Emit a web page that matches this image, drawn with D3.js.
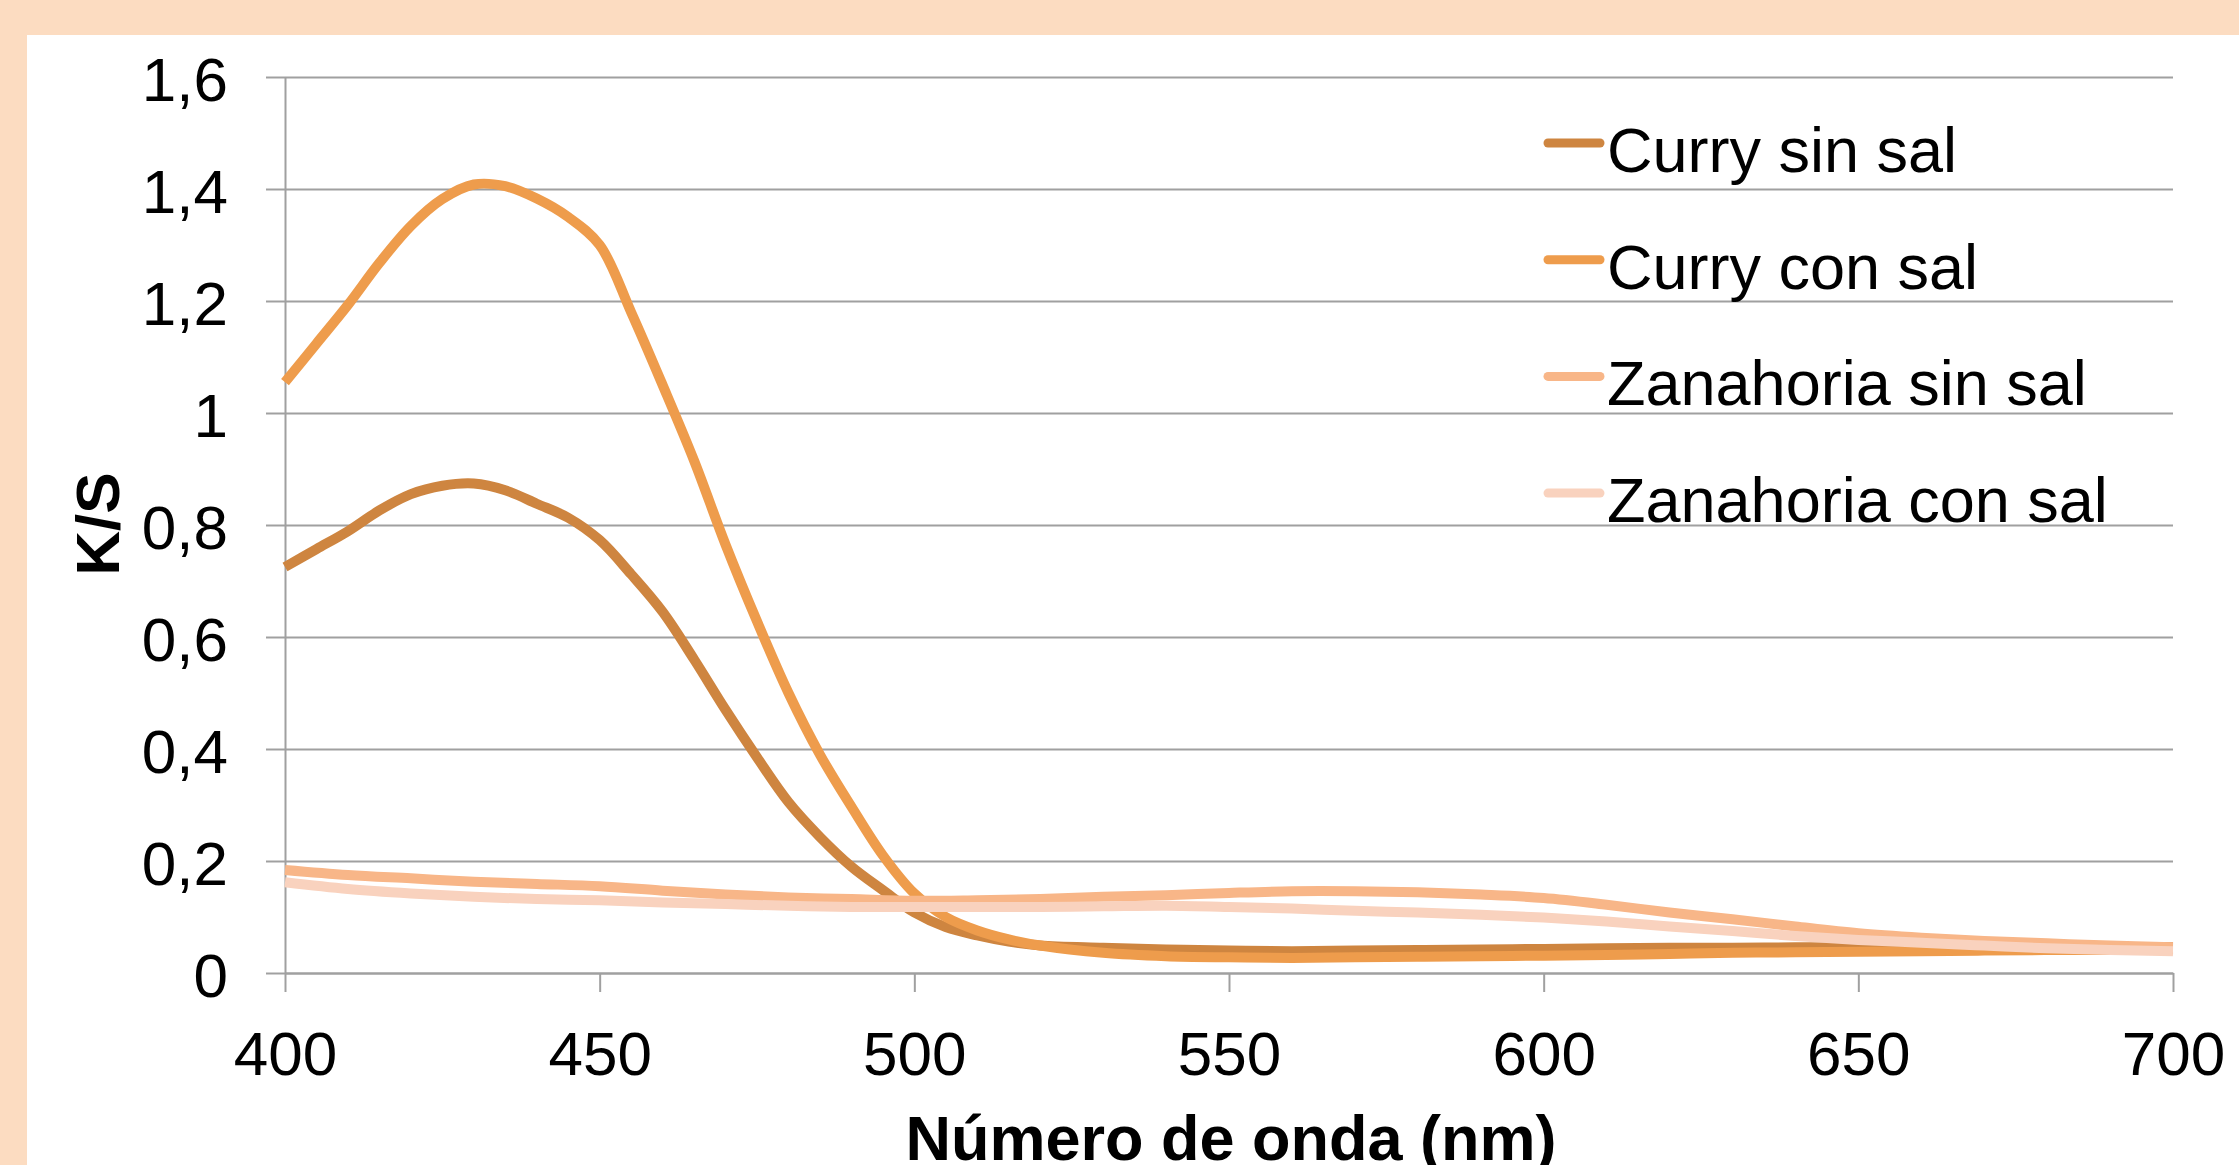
<!DOCTYPE html>
<html>
<head>
<meta charset="utf-8">
<script src="https://cdn.jsdelivr.net/npm/d3@7"></script>
<style>
  body { margin: 0; background: #fff; }
  svg { display: block; }
  text { font-family: "Liberation Sans", Arial, sans-serif; fill: #000; }
  .axis path, .axis line { stroke: #a0a0a0; stroke-width: 2; }
</style>
</head>
<body>
<svg class="root"></svg>
<script>
// wavelengths (nm) for curry spectra, finer around the peak
var curryNm = [400, 405, 410, 415, 420, 425, 430, 435, 440, 445, 450, 455, 460, 465, 470,
  475, 480, 485, 490, 495, 500, 505, 510, 515, 520, 530, 540, 550, 560, 570, 580, 590,
  600, 610, 620, 630, 640, 650, 660, 670, 680, 690, 700];
var currySinSal = [0.725, 0.757, 0.789, 0.826, 0.855, 0.870, 0.874, 0.862, 0.838, 0.813, 0.773,
  0.712, 0.645, 0.560, 0.470, 0.385, 0.305, 0.243, 0.190, 0.148, 0.108, 0.082, 0.067, 0.056,
  0.049, 0.045, 0.042, 0.040, 0.039, 0.040, 0.041, 0.042, 0.043, 0.044, 0.045, 0.045, 0.046,
  0.046, 0.046, 0.046, 0.046, 0.046, 0.046];
var curryConSal = [1.055, 1.124, 1.193, 1.268, 1.334, 1.382, 1.408, 1.405, 1.383, 1.350, 1.300,
  1.180, 1.050, 0.915, 0.765, 0.628, 0.500, 0.390, 0.297, 0.210, 0.142, 0.100, 0.076, 0.060,
  0.049, 0.036, 0.030, 0.028, 0.027, 0.028, 0.029, 0.030, 0.031, 0.032, 0.034, 0.036, 0.037,
  0.038, 0.039, 0.040, 0.041, 0.041, 0.042];

// wavelengths (nm) for carrot spectra
var zanahoriaNm = [400, 410, 420, 430, 440, 450, 460, 470, 480, 490, 500, 510, 520, 530, 540,
  550, 560, 570, 580, 590, 600, 610, 620, 630, 640, 650, 660, 670, 680, 690, 700];
var zanahoriaSinSal = [0.184, 0.175, 0.169, 0.163, 0.159, 0.155, 0.147, 0.140, 0.135, 0.132,
  0.129, 0.130, 0.132, 0.136, 0.139, 0.143, 0.146, 0.146, 0.144, 0.140, 0.134, 0.122, 0.108,
  0.096, 0.083, 0.071, 0.063, 0.057, 0.053, 0.049, 0.046];
var zanahoriaConSal = [0.162, 0.150, 0.142, 0.136, 0.132, 0.130, 0.126, 0.123, 0.120, 0.118,
  0.118, 0.118, 0.118, 0.119, 0.120, 0.118, 0.115, 0.111, 0.108, 0.104, 0.099, 0.092, 0.083,
  0.075, 0.066, 0.059, 0.054, 0.049, 0.044, 0.041, 0.039];

var seriesNames = ["Curry sin sal", "Curry con sal", "Zanahoria sin sal", "Zanahoria con sal"];
var seriesColors = ["#ce8540", "#ee9c4c", "#f8b688", "#f9d2be"];

var xTicks = [400, 450, 500, 550, 600, 650, 700];
var yTicks = [0, 0.2, 0.4, 0.6, 0.8, 1, 1.2, 1.4, 1.6];
var yTickLabels = ["0", "0,2", "0,4", "0,6", "0,8", "1", "1,2", "1,4", "1,6"];

var W = 2239, H = 1165;
var margin = {top: 77, right: 66, bottom: 192, left: 285},
  width = W - margin.left - margin.right,
  height = H - margin.top - margin.bottom;

var svg = d3.select(".root").attr("width", W).attr("height", H);

// peach frame
svg.append("rect").attr("width", W).attr("height", H).attr("fill", "#fcdcc1");
svg.append("rect").attr("x", 27).attr("y", 35).attr("width", W - 27).attr("height", H - 35)
  .attr("fill", "#fff");

var chart = svg.append("g")
  .attr("transform", "translate(" + margin.left + "," + margin.top + ")");

var x = d3.scaleLinear().domain([400, 700]).range([0, width]);
var y = d3.scaleLinear().domain([0, 1.6]).range([height, 0]);

// gridlines
chart.append("g")
  .attr("class", "axis grid")
  .call(d3.axisLeft(y).tickValues(yTicks).tickSize(-width).tickFormat(""))
  .call(g => g.select(".domain").remove());

// y axis with short outward ticks and labels
chart.append("g")
  .attr("class", "axis y")
  .call(d3.axisLeft(y).tickValues(yTicks).tickSizeInner(19).tickSizeOuter(0).tickPadding(38)
    .tickFormat((d, i) => yTickLabels[i]))
  .selectAll("text")
    .attr("font-size", 62)
    .attr("dy", "0.38em");

// x axis
chart.append("g")
  .attr("class", "axis x")
  .attr("transform", "translate(0," + height + ")")
  .call(d3.axisBottom(x).tickValues(xTicks).tickSizeInner(19).tickSizeOuter(0).tickPadding(39))
  .selectAll("text")
    .attr("font-size", 62)
    .attr("dy", "0.71em");

chart.selectAll(".axis text").attr("font-family", "Liberation Sans, Arial, sans-serif").attr("fill", "#000");

// lines
var series = [
  {xs: curryNm, ys: currySinSal},
  {xs: curryNm, ys: curryConSal},
  {xs: zanahoriaNm, ys: zanahoriaSinSal},
  {xs: zanahoriaNm, ys: zanahoriaConSal}
];

var line = d3.line()
  .x(d => x(d[0]))
  .y(d => y(d[1]))
  .curve(d3.curveCatmullRom.alpha(0.5));

chart.selectAll(".serie")
  .data(series)
  .enter().append("path")
    .attr("class", "serie")
    .attr("fill", "none")
    .attr("stroke", (d, i) => seriesColors[i])
    .attr("stroke-width", 10)
    .attr("stroke-linejoin", "round")
    .attr("d", d => line(d.xs.map((v, i) => [v, d.ys[i]])));

// legend
var legend = svg.append("g").attr("transform", "translate(1548,143)");
var item = legend.selectAll(".item")
  .data(seriesNames)
  .enter().append("g")
    .attr("class", "item")
    .attr("transform", (d, i) => "translate(0," + i * 116.7 + ")");
item.append("line")
  .attr("x1", 0).attr("x2", 52)
  .attr("stroke", (d, i) => seriesColors[i])
  .attr("stroke-width", 9)
  .attr("stroke-linecap", "round");
item.append("text")
  .attr("x", 59).attr("y", 29)
  .attr("font-size", 63)
  .text(d => d);

// axis titles
svg.append("text")
  .attr("transform", "translate(119,524) rotate(-90)")
  .attr("text-anchor", "middle")
  .attr("font-size", 62)
  .attr("font-weight", "bold")
  .text("K/S");

svg.append("text")
  .attr("x", 1231).attr("y", 1160)
  .attr("text-anchor", "middle")
  .attr("font-size", 63)
  .attr("font-weight", "bold")
  .text("Número de onda (nm)");
</script>
</body>
</html>
